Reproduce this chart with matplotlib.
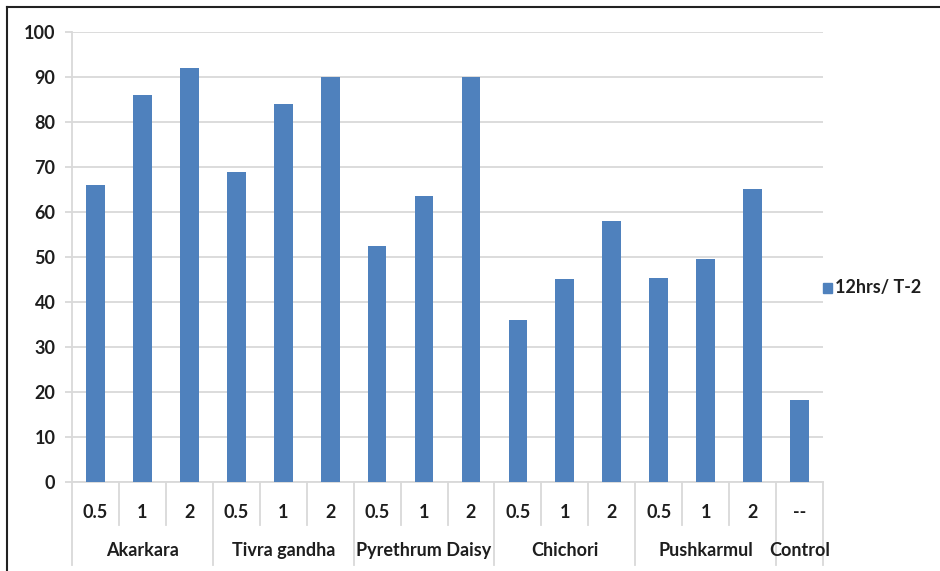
import numpy as np
import matplotlib
matplotlib.use("Agg")
from matplotlib import pyplot as plt
from matplotlib.lines import Line2D
from matplotlib.patches import Rectangle

# mortality (%) after 12 hrs, treatment T-2
groups = ["Akarkara", "Tivra gandha", "Pyrethrum Daisy", "Chichori", "Pushkarmul", "Control"]
doses = [["0.5", "1", "2"], ["0.5", "1", "2"], ["0.5", "1", "2"],
         ["0.5", "1", "2"], ["0.5", "1", "2"], ["--"]]
values = [66, 86, 92,
          69, 84, 90,
          52.5, 63.6, 90,
          36, 45.1, 58,
          45.4, 49.6, 65.1,
          18.3]
series_name = "12hrs/ T-2"

plt.rcParams['font.family'] = ['Lato', 'DejaVu Sans']
bar_color = "#4F81BD"
grid_color = "#D9D9D9"
text_color = "#1e1e1e"
fs = 13

fig = plt.figure(figsize=(9.4, 5.71), dpi=100)
ax = fig.add_axes([72/940, (571-482.3)/571, 751/940, 450.3/571])

x = np.arange(len(values))
ax.bar(x, values, width=0.4, color=bar_color, zorder=3)
ax.set_xlim(-0.5, len(values) - 0.5)
ax.set_ylim(0, 100)
ax.set_yticks(range(0, 101, 10))
ax.yaxis.grid(True, color=grid_color, linewidth=1.3, zorder=0)
ax.set_xticks([])
for s in ["top", "right"]:
    ax.spines[s].set_visible(False)
for s in ["left", "bottom"]:
    ax.spines[s].set_color(grid_color)
    ax.spines[s].set_linewidth(1.3)
ax.tick_params(axis="y", length=5, width=1.3, color=grid_color, pad=7,
               labelsize=fs, labelcolor=text_color)
for lbl in ax.get_yticklabels():
    lbl.set_fontweight("bold")

# two-level category axis
trans = ax.get_xaxis_transform()
inner_y, outer_y = -0.095, -0.183
pos = 0
edges = [-0.5]
for g, ds in zip(groups, doses):
    start = pos
    for d in ds:
        ax.text(pos, -0.066, d, transform=trans, ha="center", va="center",
                fontsize=fs, fontweight="bold", color=text_color)
        pos += 1
        if pos - start < len(ds):
            ax.plot([pos - 0.5, pos - 0.5], [0, inner_y], transform=trans,
                    color=grid_color, lw=1.3, clip_on=False)
    edges.append(pos - 0.5)
    ax.text((start + pos - 1) / 2, -0.152, g, transform=trans, ha="center",
            va="center", fontsize=fs, fontweight="bold", color=text_color)
for e in edges:
    ax.plot([e, e], [0, outer_y], transform=trans, color=grid_color, lw=1.3,
            clip_on=False)

# legend
fig.patches.append(Rectangle((823/940, 1 - 293/571), 9/940, 10/571,
                             transform=fig.transFigure, color=bar_color))
fig.text(835/940, 1 - 288/571, series_name, ha="left", va="center",
         fontsize=fs, fontweight="bold", color=text_color)

# outer frame
fig.add_artist(Line2D([7/940, 7/940], [0, 1 - 7/571], transform=fig.transFigure,
                      color="#222222", lw=1.5))
fig.add_artist(Line2D([7/940, 1], [1 - 7/571, 1 - 7/571], transform=fig.transFigure,
                      color="#222222", lw=1.5))

fig.savefig("out.png", dpi=100)
